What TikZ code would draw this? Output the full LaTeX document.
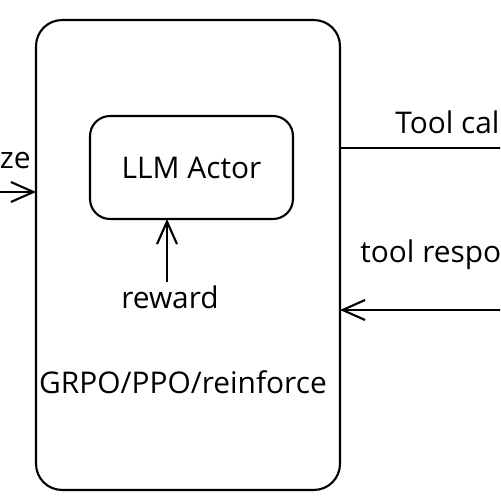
\documentclass[tikz,border=0pt]{standalone}
\usepackage{fontspec}
\setmainfont{Open Sans}
\usetikzlibrary{arrows.meta}
\tikzset{
    sketch/.style={draw, line width=1.2pt, outer sep=0pt, rounded corners=0.52cm},
    lbl/.style={font=\fontsize{17}{20}\selectfont, inner sep=0pt},
    arr/.style={line width=1.2pt, -{Straight Barb[length=0.45cm, width=0.4cm, line width=1.2pt]}}
}
\begin{document}
\begin{tikzpicture}[x=0.02cm, y=-0.02cm]
    \clip (0,0) rectangle (500,500);
    % outer trainer box and the actor inside it
    \node[sketch, minimum width=6.08cm, minimum height=9.4cm] (outer) at (188,255) {};
    \node[sketch, rounded corners=0.4cm, minimum width=4.06cm, minimum height=2.06cm] (actor) at (191.5,167.5) {};
    \node[lbl] (actorlbl) at (actor.center) {LLM Actor};
    \node[lbl] (reward) at (170,297) {reward};
    \node[lbl] (algo) at (183,382) {GRPO/PPO/reinforce};
    % labels cut off at the borders
    \node[lbl, anchor=base east] (initlbl) at (31,168) {ze};
    \node[lbl, anchor=base west] (calllbl) at (395,133) {Tool cal};
    \node[lbl, anchor=base west] (resplbl) at (360,262) {tool respo};
    % connectors
    \coordinate (init) at (-10,192);
    \coordinate (callend) at (510,148);
    \coordinate (respend) at (510,310);
    \draw[arr] (init) -- (init -| outer.west);
    \draw[line width=1.2pt] (callend -| outer.east) -- (callend);
    \draw[arr] (respend) -- (respend -| outer.east);
    \draw[arr] ([yshift=2pt]reward.north -| 167,0) -- (167,0 |- actor.south);
\end{tikzpicture}
\end{document}
